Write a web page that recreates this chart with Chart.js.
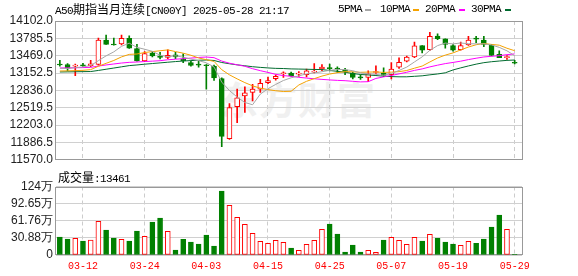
<!DOCTYPE html>
<html lang="zh">
<head>
<meta charset="UTF-8">
<title>A50期指当月连续[CN00Y]</title>
<script src="https://cdn.jsdelivr.net/npm/chart.js"></script>
<style>
  body { margin: 0; background: #fff; }
  #wrap { position: relative; width: 578px; height: 276px; overflow: hidden; }
  canvas { position: absolute; left: 0; }
  .txt { position: absolute; white-space: nowrap; font-family: "Liberation Mono", monospace; font-size: 11px; letter-spacing: -0.6px; line-height: 12px; color: #000; }
  .cjk { font-family: "Noto Sans CJK SC"; font-size: 12px; letter-spacing: 0; }
  .dash { position: absolute; height: 2px; width: 6px; top: 9px; }
  .mark { position: absolute; left: 220px; top: 70px; font-family: "Noto Sans CJK SC"; font-weight: bold; font-size: 38px; color: #f0f0f0; letter-spacing: 1px; }
</style>
</head>
<body>
<div id="wrap">
  <div class="mark">东方财富</div>
  <canvas id="price" width="578" height="170" style="top:0"></canvas>
  <canvas id="volume" width="578" height="102" style="top:174px"></canvas>
  <div class="txt" style="left:55px;top:3px">A50<span class="cjk">期指当月连续</span>[CN00Y] 2025-05-28 21:17</div>
  <div class="txt" style="left:338px;top:3px">5PMA</div><div class="dash" style="left:365px;background:#a6a6a6"></div>
  <div class="txt" style="left:380px;top:3px">10PMA</div><div class="dash" style="left:413px;background:#f5a200"></div>
  <div class="txt" style="left:425px;top:3px">20PMA</div><div class="dash" style="left:459px;background:#ff00ff"></div>
  <div class="txt" style="left:471px;top:3px">30PMA</div><div class="dash" style="left:505px;background:#006b2f"></div>
  <div class="txt" style="left:58px;top:171px"><span class="cjk">成交量</span>:13461</div>
</div>
<script>
// trading days shown
const dates = ['03-07','03-10','03-11','03-12','03-13','03-14','03-17','03-18','03-19','03-20',
  '03-21','03-24','03-25','03-26','03-27','03-28','03-31','04-01','04-02','04-03',
  '04-04','04-07','04-08','04-09','04-10','04-11','04-14','04-15','04-16','04-17',
  '04-18','04-21','04-22','04-23','04-24','04-25','04-28','04-29','04-30','05-01',
  '05-02','05-05','05-06','05-07','05-08','05-09','05-12','05-13','05-14','05-15',
  '05-16','05-19','05-20','05-21','05-22','05-23','05-26','05-27','05-28','05-29'];

const open = [13306,13309,13280,13297,13286,13309,13752,13666,13682,13787,
  13600,13373,13518,13460,13437,13483,13408,13344,13299,13297,
  13280,13052,11956,12539,12737,12801,12860,12976,13052,13139,
  13151,13134,13122,13169,13227,13238,13229,13210,13151,13081,
  13075,13163,13151,13122,13262,13367,13449,13653,13577,13827,
  13775,13653,13577,13664,13772,13752,13658,13495,13433,13341];
const high = [13384,13326,13314,13330,13384,13792,13845,13792,13845,13833,
  13676,13542,13548,13530,13577,13530,13501,13367,13367,13309,
  13297,13064,12597,12860,12900,12947,13040,13081,13122,13174,
  13169,13180,13227,13326,13309,13314,13268,13239,13169,13122,
  13192,13285,13250,13344,13431,13460,13717,13653,13897,13868,
  13775,13670,13717,13822,13822,13822,13676,13559,13472,13384];
const low = [13280,13192,13104,13275,13268,13297,13676,13660,13664,13600,
  13367,13361,13448,13408,13414,13414,13344,13280,13262,12860,
  13017,11810,11944,12247,12434,12644,12801,12959,13023,13075,
  13093,13093,13081,13157,13198,13192,13163,13122,13046,13035,
  12994,13145,13087,13046,13239,13355,13431,13519,13565,13763,
  13606,13553,13571,13658,13705,13635,13466,13431,13402,13320];
const close = [13300,13239,13297,13285,13320,13752,13676,13664,13787,13606,
  13373,13507,13466,13437,13478,13448,13380,13291,13297,13285,
  13064,11997,12522,12702,12790,12860,12965,13017,13093,13151,
  13105,13145,13192,13180,13262,13232,13226,13180,13075,13064,
  13139,13175,13110,13227,13350,13443,13647,13571,13822,13781,
  13676,13571,13653,13752,13770,13676,13472,13431,13437,13332];

const volume = [324000,288000,301000,252000,270000,607000,451000,307000,282000,252000,
  433000,337000,595000,667000,427000,90000,283000,234000,198000,361000,
  162000,1154000,896000,680000,553000,391000,247000,210000,264000,228000,
  123000,84000,192000,264000,463000,559000,379000,54000,180000,54000,
  84000,48000,270000,319000,264000,192000,319000,252000,373000,301000,
  234000,198000,174000,247000,210000,288000,505000,721000,463000,13461];

const ma5 = [13240,13235,13250,13265,13289,13379,13466,13539,13640,13697,
  13621,13587,13548,13478,13452,13467,13442,13407,13379,13340,
  13263,12987,12833,12714,12615,12574,12768,12867,12945,13017,
  13066,13102,13137,13155,13177,13202,13218,13216,13195,13155,
  13137,13127,13113,13143,13200,13261,13355,13448,13567,13653,
  13699,13684,13701,13687,13685,13685,13665,13621,13558,13470];
const ma10 = [13190,13193,13197,13202,13215,13276,13330,13382,13447,13493,
  13500,13527,13544,13559,13575,13544,13515,13477,13428,13396,
  13365,13214,13120,13046,12978,12919,12877,12850,12830,12816,
  12820,12935,13002,13050,13097,13134,13160,13177,13175,13166,
  13170,13173,13164,13169,13178,13199,13241,13280,13355,13427,
  13480,13520,13574,13627,13669,13692,13675,13661,13605,13560];
const ma20 = [13245,13247,13249,13252,13256,13280,13300,13318,13335,13348,
  13354,13362,13370,13378,13395,13405,13415,13425,13437,13445,
  13433,13371,13332,13303,13276,13232,13196,13164,13129,13106,
  13093,13075,13061,13048,13037,13027,13019,13013,13002,12991,
  12995,13054,13083,13109,13137,13167,13201,13228,13265,13296,
  13325,13346,13369,13398,13423,13446,13458,13470,13488,13502];
const ma30 = [13172,13174,13176,13178,13180,13200,13222,13244,13266,13288,
  13300,13314,13326,13338,13350,13362,13372,13380,13386,13390,
  13382,13345,13322,13302,13285,13268,13256,13246,13238,13235,
  13228,13225,13222,13218,13216,13199,13184,13168,13144,13126,
  13118,13107,13095,13088,13084,13084,13093,13102,13120,13136,
  13157,13209,13247,13282,13315,13342,13359,13372,13384,13390];

const priceTicks = [11570, 11886.5, 12203, 12519.5, 12836, 13152.5, 13469, 13785.5, 14102];
const volTicks = [0, 308820, 617640, 926460, 1235280];
const volTickLabels = ['0', '30.88万', '61.76万', '92.65万', '124万'];
const dateTicks = [3, 11, 19, 27, 35, 43, 51, 59];

const RED = '#ff0000';
const GREEN = '#008000';
const up = close.map((c, i) => c >= open[i]);
const pts = arr => arr.map((v, i) => ({ x: i, y: v }));

// box around the plot area
const frame = {
  id: 'frame',
  beforeDatasetsDraw(chart) {
    const { ctx, chartArea: a } = chart;
    const x0 = Math.round(a.left) - 0.5, y0 = Math.round(a.top) + 0.5;
    const x1 = Math.round(a.right) + 0.5, y1 = Math.round(a.bottom) - 0.5;
    ctx.save();
    ctx.strokeStyle = '#999';
    ctx.lineWidth = 1;
    ctx.strokeRect(x0, y0, x1 - x0, y1 - y0);
    ctx.restore();
  }
};

function xAxis(labels) {
  return {
    type: 'linear', min: -0.5, max: 59.95, offset: false,
    afterBuildTicks: s => { s.ticks = dateTicks.map(v => ({ value: v })); },
    afterFit: s => { s.height = labels ? 21 : 0; },
    grid: { color: '#cccccc', drawTicks: false, offset: false },
    border: { display: false, dash: [4, 3] },
    ticks: labels ? {
      padding: 5, color: RED, maxRotation: 0, autoSkip: false,
      font: { family: 'Liberation Mono', size: 10 },
      callback: v => dates[v]
    } : { display: false }
  };
}

const yLabelFont = { family: 'Liberation Sans', size: 12 };

new Chart(document.getElementById('price'), {
  type: 'bar',
  data: {
    datasets: [
      { type: 'line', data: pts(ma5), borderColor: '#a6a6a6', borderWidth: 1, pointRadius: 0, order: 0 },
      { type: 'line', data: pts(ma10), borderColor: '#f5a200', borderWidth: 1, pointRadius: 0, order: 0 },
      { type: 'line', data: pts(ma20), borderColor: '#ff00ff', borderWidth: 1, pointRadius: 0, order: 0 },
      { type: 'line', data: pts(ma30), borderColor: '#006b2f', borderWidth: 1, pointRadius: 0, order: 0 },
      {
        data: open.map((o, i) => ({ x: i, y: [o, close[i]] })),
        backgroundColor: up.map(u => u ? '#ffffff' : GREEN),
        borderColor: up.map(u => u ? RED : GREEN),
        borderWidth: 1, borderSkipped: false, barThickness: 5, minBarLength: 1,
        grouped: false, order: 1
      },
      {
        data: low.map((l, i) => ({ x: i, y: [l, high[i]] })),
        backgroundColor: up.map(u => u ? RED : GREEN),
        barThickness: 1, grouped: false, order: 2
      }
    ]
  },
  options: {
    responsive: false, animation: false,
    layout: { padding: { left: 0, right: 56, top: 21, bottom: 4.5 } },
    plugins: { legend: { display: false }, tooltip: { enabled: false } },
    scales: {
      x: xAxis(false),
      y: {
        type: 'linear', min: 11570, max: 14102,
        afterBuildTicks: s => { s.ticks = priceTicks.map(v => ({ value: v })); },
        afterFit: s => { s.width = 56; },
        grid: { color: '#d0d0d0', drawTicks: false },
        border: { display: false },
        ticks: { padding: 3, autoSkip: false, color: '#222', font: yLabelFont, callback: v => v.toFixed(1) }
      }
    }
  },
  plugins: [frame]
});

new Chart(document.getElementById('volume'), {
  type: 'bar',
  data: {
    datasets: [{
      data: volume.map((v, i) => ({ x: i, y: v })),
      backgroundColor: up.map(u => u ? '#ffffff' : GREEN),
      borderColor: up.map(u => u ? RED : GREEN),
      borderWidth: 1, borderSkipped: false, barThickness: 5, grouped: false
    }]
  },
  options: {
    responsive: false, animation: false,
    layout: { padding: { left: 0, right: 56, top: 12.5, bottom: 0 } },
    plugins: { legend: { display: false }, tooltip: { enabled: false } },
    scales: {
      x: xAxis(true),
      y: {
        type: 'linear', min: 0, max: 1235280,
        afterBuildTicks: s => { s.ticks = volTicks.map(v => ({ value: v })); },
        afterFit: s => { s.width = 56; },
        grid: { color: '#d0d0d0', drawTicks: false },
        border: { display: false },
        ticks: { padding: 3, autoSkip: false, color: '#222', font: yLabelFont, callback: (v, i) => volTickLabels[i] }
      }
    }
  },
  plugins: [frame]
});
</script>
</body>
</html>
